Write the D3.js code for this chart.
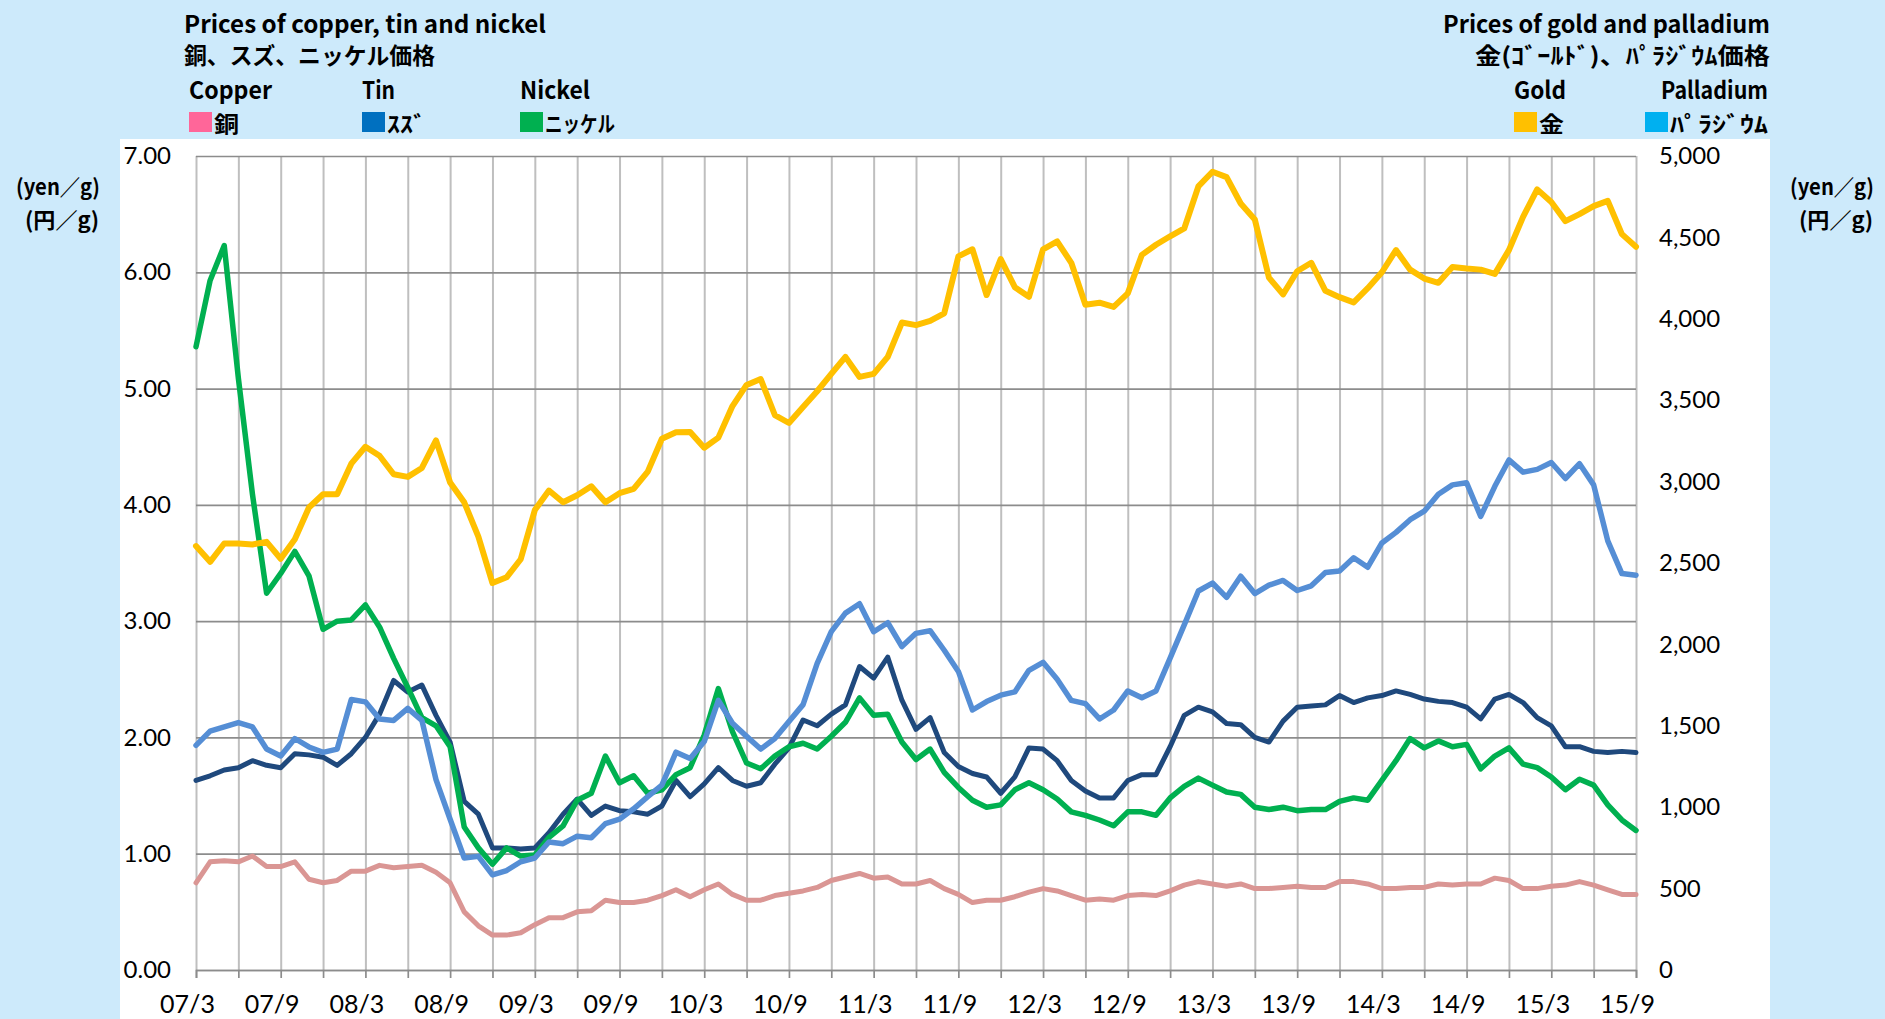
<!DOCTYPE html>
<html>
<head>
<meta charset="utf-8">
<script src="https://cdn.jsdelivr.net/npm/d3@7"></script>
<style>
  html, body { margin: 0; padding: 0; background: #cdeafb; }
  svg { display: block; }
</style>
</head>
<body>
<svg id="chart" width="1885" height="1019"></svg>
<script>
// monthly prices, 2007/3 .. 2015/9 (103 months)
// left axis, yen/g
const copper = [
  0.75, 0.93, 0.94, 0.93, 0.98, 0.89, 0.89, 0.93, 0.78, 0.75,
  0.77, 0.85, 0.85, 0.90, 0.88, 0.89, 0.90, 0.84, 0.75, 0.50,
  0.38, 0.30, 0.30, 0.32, 0.39, 0.45, 0.45, 0.50, 0.51, 0.60,
  0.58, 0.58, 0.60, 0.64, 0.69, 0.63, 0.69, 0.74, 0.65, 0.60,
  0.60, 0.64, 0.66, 0.68, 0.71, 0.77, 0.80, 0.83, 0.79, 0.80,
  0.74, 0.74, 0.77, 0.70, 0.65, 0.58, 0.60, 0.60, 0.63, 0.67,
  0.70, 0.68, 0.64, 0.60, 0.61, 0.60, 0.64, 0.65, 0.64, 0.68,
  0.73, 0.76, 0.74, 0.72, 0.74, 0.70, 0.70, 0.71, 0.72, 0.71,
  0.71, 0.76, 0.76, 0.74, 0.70, 0.70, 0.71, 0.71, 0.74, 0.73,
  0.74, 0.74, 0.79, 0.77, 0.70, 0.70, 0.72, 0.73, 0.76, 0.73,
  0.69, 0.65, 0.65
];
const tin = [
  1.63, 1.67, 1.72, 1.74, 1.80, 1.76, 1.74, 1.86, 1.85, 1.83,
  1.76, 1.86, 2.00, 2.20, 2.49, 2.39, 2.45, 2.19, 1.96, 1.45,
  1.34, 1.05, 1.05, 1.04, 1.05, 1.18, 1.34, 1.47, 1.33, 1.41,
  1.37, 1.36, 1.34, 1.41, 1.63, 1.49, 1.60, 1.74, 1.63, 1.58,
  1.61, 1.77, 1.91, 2.15, 2.10, 2.20, 2.28, 2.61, 2.51, 2.69,
  2.32, 2.07, 2.17, 1.87, 1.75, 1.69, 1.66, 1.52, 1.66, 1.91,
  1.90, 1.80, 1.63, 1.54, 1.48, 1.48, 1.63, 1.68, 1.68, 1.92,
  2.19, 2.26, 2.22, 2.12, 2.11, 2.00, 1.96, 2.14, 2.26, 2.27,
  2.28, 2.36, 2.30, 2.34, 2.36, 2.40, 2.37, 2.33, 2.31, 2.30,
  2.26, 2.16, 2.33, 2.37, 2.30, 2.17, 2.10, 1.92, 1.92, 1.88,
  1.87, 1.88, 1.87
];
const nickel = [
  5.36, 5.93, 6.23, 5.09, 4.09, 3.24, 3.41, 3.60, 3.39, 2.93,
  3.00, 3.01, 3.14, 2.95, 2.68, 2.43, 2.17, 2.10, 1.92, 1.23,
  1.05, 0.91, 1.05, 0.98, 0.99, 1.14, 1.24, 1.46, 1.52, 1.84,
  1.61, 1.67, 1.52, 1.55, 1.68, 1.74, 2.02, 2.42, 2.05, 1.78,
  1.73, 1.84, 1.92, 1.95, 1.90, 2.01, 2.13, 2.34, 2.19, 2.20,
  1.96, 1.81, 1.90, 1.70, 1.57, 1.46, 1.40, 1.42, 1.55, 1.61,
  1.55, 1.47, 1.36, 1.33, 1.29, 1.24, 1.36, 1.36, 1.33, 1.48,
  1.58, 1.65, 1.59, 1.53, 1.51, 1.40, 1.38, 1.40, 1.37, 1.38,
  1.38, 1.45, 1.48, 1.46, 1.63, 1.80, 1.99, 1.91, 1.97, 1.92,
  1.94, 1.73, 1.84, 1.91, 1.77, 1.74, 1.66, 1.55, 1.64, 1.59,
  1.42, 1.29, 1.20
];
// right axis, yen/g
const gold = [
  2604, 2507, 2620, 2620, 2614, 2630, 2526, 2646, 2841, 2922,
  2922, 3110, 3214, 3159, 3045, 3029, 3084, 3253, 2994, 2873,
  2662, 2377, 2412, 2523, 2825, 2945, 2873, 2916, 2971, 2873,
  2929, 2955, 3061, 3263, 3303, 3305, 3208, 3270, 3464, 3594,
  3630, 3409, 3360, 3458, 3555, 3662, 3766, 3643, 3662, 3766,
  3977, 3961, 3987, 4034, 4383, 4427, 4146, 4367, 4194, 4135,
  4427, 4475, 4344, 4086, 4099, 4073, 4156, 4393, 4455, 4507,
  4555, 4813, 4903, 4870, 4708, 4610, 4253, 4150, 4292, 4344,
  4172, 4133, 4101, 4188, 4286, 4422, 4302, 4247, 4221, 4318,
  4309, 4302, 4276, 4422, 4626, 4795, 4717, 4600, 4643, 4692,
  4724, 4520, 4442
];
const palladium = [
  1380, 1467, 1493, 1520, 1493, 1357, 1315, 1422, 1370, 1337,
  1357, 1662, 1647, 1542, 1533, 1607, 1533, 1169, 926, 688,
  698, 584, 611, 665, 688, 786, 776, 822, 812, 899,
  926, 990, 1065, 1136, 1338, 1299, 1403, 1656, 1516, 1435,
  1357, 1422, 1526, 1630, 1883, 2078, 2192, 2250, 2078, 2133,
  1987, 2068, 2084, 1964, 1834, 1597, 1649, 1688, 1708, 1841,
  1890, 1786, 1656, 1636, 1542, 1597, 1714, 1672, 1714, 1916,
  2120, 2328, 2377, 2289, 2419, 2312, 2364, 2393, 2331, 2360,
  2442, 2451, 2532, 2474, 2623, 2688, 2766, 2818, 2922, 2980,
  2993, 2786, 2971, 3133, 3058, 3075, 3117, 3019, 3110, 2980,
  2636, 2435, 2425
];

const leftTicks = [0, 1, 2, 3, 4, 5, 6, 7];
const rightTicks = [0, 500, 1000, 1500, 2000, 2500, 3000, 3500, 4000, 4500, 5000];
const xLabels = ["07/3", "07/9", "08/3", "08/9", "09/3", "09/9", "10/3", "10/9", "11/3",
                 "11/9", "12/3", "12/9", "13/3", "13/9", "14/3", "14/9", "15/3", "15/9"];

// month categories "yy/m"
const months = d3.timeMonth.range(new Date(2007, 2, 1), new Date(2015, 9, 1))
  .map(d => d3.timeFormat("%y")(d) + "/" + (d.getMonth() + 1));

const svg = d3.select("#chart");
const tickFont = "Lato, 'Liberation Sans', sans-serif";
const jpFont = "'Noto Sans CJK JP', sans-serif";

// backgrounds
svg.append("rect").attr("width", 1885).attr("height", 1019).attr("fill", "#cdeafb");
svg.append("rect").attr("x", 120).attr("y", 139).attr("width", 1650).attr("height", 880).attr("fill", "#ffffff");

var x = d3.scalePoint().domain(months).range([196, 1636]);
var yL = d3.scaleLinear().domain([0, 7]).range([970, 156]);
var yR = d3.scaleLinear().domain([0, 5000]).range([970, 156]);

var every3 = months.filter((d, i) => i % 3 === 0);

// vertical grid
svg.append("g")
  .attr("class", "vgrid")
  .attr("transform", "translate(0,970)")
  .call(d3.axisBottom(x).tickValues(every3).tickSize(-(970 - 156)).tickFormat(""))
  .call(g => g.select(".domain").remove())
  .selectAll("line").attr("stroke", "#bfbfbf").attr("stroke-width", 2);

// horizontal grid
svg.append("g")
  .attr("class", "hgrid")
  .attr("transform", "translate(196,0)")
  .call(d3.axisLeft(yL).tickValues(leftTicks).tickSize(-(1636 - 196)).tickFormat(""))
  .call(g => g.select(".domain").remove())
  .selectAll("line").attr("stroke", "#8c8c8c").attr("stroke-width", 1.7);

// bottom axis tick marks
svg.append("g")
  .attr("transform", "translate(0,970)")
  .call(d3.axisBottom(x).tickValues(every3).tickSize(8).tickFormat(""))
  .call(g => g.select(".domain").attr("stroke", "#8c8c8c").attr("stroke-width", 1.7))
  .selectAll("line").attr("stroke", "#8c8c8c").attr("stroke-width", 1.7);

// bottom labels
var xAxis = svg.append("g")
  .attr("transform", "translate(0,970)")
  .call(d3.axisBottom(x).tickValues(xLabels).tickSize(0));
xAxis.select(".domain").remove();
xAxis.selectAll("text")
  .attr("x", -9).attr("y", 43).attr("dy", 0)
  .attr("font-family", tickFont).attr("font-size", 25).attr("fill", "#000");

// left labels
var leftAxis = svg.append("g")
  .attr("transform", "translate(196,0)")
  .call(d3.axisLeft(yL).tickValues(leftTicks).tickFormat(d3.format(".2f")).tickSize(0).tickPadding(25));
leftAxis.select(".domain").remove();
leftAxis.selectAll("text").attr("font-family", tickFont).attr("font-size", 24).attr("fill", "#000");

// right labels
var rightAxis = svg.append("g")
  .attr("transform", "translate(1636,0)")
  .call(d3.axisRight(yR).tickValues(rightTicks).tickFormat(d3.format(",")).tickSize(0).tickPadding(23));
rightAxis.select(".domain").remove();
rightAxis.selectAll("text").attr("font-family", tickFont).attr("font-size", 24).attr("fill", "#000");

// lines
var lineL = d3.line().x((d, i) => x(months[i])).y(d => yL(d));
var lineR = d3.line().x((d, i) => x(months[i])).y(d => yR(d));

var series = [
  { data: copper, line: lineL, color: "#da9694", w: 5 },
  { data: tin, line: lineL, color: "#1f497d", w: 5 },
  { data: nickel, line: lineL, color: "#00b050", w: 5.5 },
  { data: gold, line: lineR, color: "#ffc000", w: 6 },
  { data: palladium, line: lineR, color: "#558ed5", w: 5.5 }
];

svg.append("g").selectAll("path")
  .data(series)
  .enter()
  .append("path")
  .attr("d", d => d.line(d.data))
  .attr("fill", "none")
  .attr("stroke", d => d.color)
  .attr("stroke-width", d => d.w)
  .attr("stroke-linejoin", "round")
  .attr("stroke-linecap", "round");

// titles
function txt(xp, yp, s, size, anchor, len) {
  var t = svg.append("text")
    .attr("x", xp).attr("y", yp)
    .attr("font-family", jpFont)
    .attr("font-weight", 700)
    .attr("font-size", size)
    .attr("text-anchor", anchor || "start")
    .attr("fill", "#000")
    .text(s);
  if (len) t.attr("textLength", len).attr("lengthAdjust", "spacingAndGlyphs");
  return t;
}

txt(184, 33, "Prices of copper, tin and nickel", 24, "start", 362);
txt(184, 64, "銅、スズ、ニッケル価格", 23, "start", 251);
txt(1770, 33, "Prices of gold and palladium", 24, "end", 327);
txt(1770, 64, "金(ｺﾞｰﾙﾄﾞ)、ﾊﾟﾗｼﾞｳﾑ価格", 23, "end", 295);

// legend
var legend = [
  { en: "Copper", ja: "銅", sq: "#ff6699", x: 189, enLen: 83, jaLen: 25 },
  { en: "Tin", ja: "ｽｽﾞ", sq: "#0070c0", x: 362, enLen: 33, jaLen: 39 },
  { en: "Nickel", ja: "ニッケル", sq: "#00b050", x: 520, enLen: 70, jaLen: 70 },
  { en: "Gold", ja: "金", sq: "#ffc000", x: 1514, enLen: 52, jaLen: 25 },
  { en: "Palladium", ja: "ﾊﾟﾗｼﾞｳﾑ", sq: "#00b0f0", x: 1645, enLen: 107, jaLen: 98 }
];
legend.forEach(function (d) {
  var enX = d.en === "Palladium" ? 1661 : d.x;
  txt(enX, 99, d.en, 24, "start", d.enLen);
  svg.append("rect").attr("x", d.x).attr("y", 112).attr("width", 23).attr("height", 20).attr("fill", d.sq);
  txt(d.x + 25, 132, d.ja, 22, "start", d.jaLen);
});

// unit labels
[100, 1874].forEach(function (rx) {
  txt(rx, 195, "(yen／g)", 22, "end", 84);
  txt(rx - 1, 228, "(円／g)", 22, "end", 74);
});
</script>
</body>
</html>
